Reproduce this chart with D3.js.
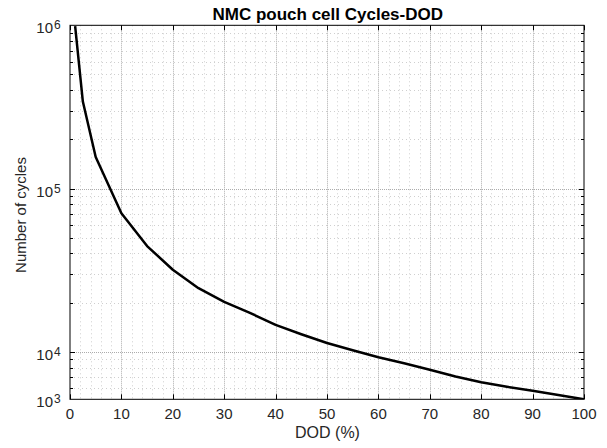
<!DOCTYPE html>
<html>
<head>
<meta charset="utf-8">
<script src="https://cdn.jsdelivr.net/npm/d3@7"></script>
<style>
  html, body { margin: 0; padding: 0; background: #fff; }
  svg { display: block; font-family: "Liberation Sans", Arial, Helvetica, sans-serif; }
</style>
</head>
<body>
<svg id="chart" width="607" height="448"></svg>
<script>
// ---- data ----
const dod = [1, 2.5, 5, 10, 15, 20, 25, 30, 35, 40, 45, 50, 55, 60, 65, 70, 75, 80, 85, 90, 95, 100];
const cycles = [990000, 341000, 156000, 70500, 44400, 31800, 24500, 20200, 17300, 14600, 12800, 11300,
                10200, 9250, 8500, 7750, 7050, 6500, 6100, 5770, 5430, 5110];
const xTicks = [0, 10, 20, 30, 40, 50, 60, 70, 80, 90, 100];
const yTickValues = [5110, 1e4, 1e5, 1e6];
const yTickExponents = ["3", "4", "5", "6"];
const title = "NMC pouch cell Cycles-DOD";
const xLabel = "DOD (%)";
const yLabel = "Number of cycles";

// ---- layout ----
const L = 70, R = 584, T = 25.3, B = 399.3;
const svg = d3.select("#chart");
const x = d3.scaleLinear().domain([0, 100]).range([L, R]);
const y = d3.scaleLog().domain([yTickValues[0], 1e6]).range([B, T]);
const textColor = "#262626";

// minor grid
const xMinor = d3.range(0, 101, 2).filter(v => v % 10 !== 0);
const yMinor = [];
for (let e = 3; e < 6; e++) for (let m = 2; m <= 9; m++) {
  const v = m * Math.pow(10, e);
  if (v > y.domain()[0] && v < 1e6) yMinor.push(v);
}
const g = svg.append("g");
g.selectAll(".xminor").data(xMinor).join("line")
  .attr("x1", d => Math.round(x(d)) + 0.5).attr("x2", d => Math.round(x(d)) + 0.5).attr("y1", T).attr("y2", B)
  .attr("stroke", "#cfcfcf").attr("stroke-width", 1).attr("stroke-dasharray", "1,3");
g.selectAll(".yminor").data(yMinor).join("line")
  .attr("x1", L).attr("x2", R).attr("y1", d => Math.round(y(d)) + 0.5).attr("y2", d => Math.round(y(d)) + 0.5)
  .attr("stroke", "#cfcfcf").attr("stroke-width", 1).attr("stroke-dasharray", "1,3");
// major grid
g.selectAll(".xmajor").data(xTicks.slice(1, -1)).join("line")
  .attr("x1", d => Math.round(x(d)) + 0.5).attr("x2", d => Math.round(x(d)) + 0.5).attr("y1", T).attr("y2", B)
  .attr("stroke", "#acacac").attr("stroke-width", 1).attr("stroke-dasharray", "1,1");
g.selectAll(".ymajor").data([1e4, 1e5]).join("line")
  .attr("x1", L).attr("x2", R).attr("y1", d => Math.round(y(d)) + 0.5).attr("y2", d => Math.round(y(d)) + 0.5)
  .attr("stroke", "#acacac").attr("stroke-width", 1).attr("stroke-dasharray", "1,1");

// curve
svg.append("clipPath").attr("id", "clip").append("rect")
  .attr("x", L).attr("y", T).attr("width", R - L).attr("height", B - T);
const line = d3.line().x((d, i) => x(dod[i])).y(d => y(d));
svg.append("path").datum(cycles).attr("d", line).attr("clip-path", "url(#clip)")
  .attr("fill", "none").attr("stroke", "#000").attr("stroke-width", 2.5).attr("stroke-linejoin", "round");

// axes box & ticks
const ax = svg.append("g").attr("stroke", "#000").attr("stroke-width", 1);
ax.append("rect").attr("x", L).attr("y", T).attr("width", R - L).attr("height", B - T).attr("fill", "none");
xTicks.forEach(v => {
  const px = Math.round(x(v)) + 0.5;
  ax.append("line").attr("x1", px).attr("x2", px).attr("y1", B).attr("y2", B - 5);
  ax.append("line").attr("x1", px).attr("x2", px).attr("y1", T).attr("y2", T + 5);
});
[1e4, 1e5].forEach(v => {
  const py = Math.round(y(v)) + 0.5;
  ax.append("line").attr("x1", L).attr("x2", L + 5).attr("y1", py).attr("y2", py);
  ax.append("line").attr("x1", R).attr("x2", R - 5).attr("y1", py).attr("y2", py);
});
yMinor.forEach(v => {
  const py = Math.round(y(v)) + 0.5;
  ax.append("line").attr("x1", L).attr("x2", L + 3).attr("y1", py).attr("y2", py);
  ax.append("line").attr("x1", R).attr("x2", R - 3).attr("y1", py).attr("y2", py);
});

// x tick labels
svg.append("g").selectAll("text").data(xTicks).join("text")
  .attr("x", d => x(d)).attr("y", B + 20).attr("text-anchor", "middle")
  .attr("font-size", 15).attr("fill", textColor).text(d => d);

// y tick labels
svg.append("g").selectAll("text").data(yTickValues).join("text")
  .attr("x", L - 17).attr("y", d => y(d) + 8).attr("text-anchor", "end")
  .attr("font-size", 15).attr("fill", textColor).text("10");
svg.append("g").selectAll("text").data(yTickValues).join("text")
  .attr("x", L - 16).attr("y", d => y(d) + 4).attr("text-anchor", "start")
  .attr("font-size", 12).attr("fill", textColor).text((d, i) => yTickExponents[i]);

// title & labels
svg.append("text").attr("x", 443).attr("y", 19.5).attr("text-anchor", "end")
  .attr("font-size", 17).attr("font-weight", "bold").attr("fill", "#000").text(title);
svg.append("text").attr("x", 327.5).attr("y", 438).attr("text-anchor", "middle")
  .attr("font-size", 16).attr("fill", textColor).text(xLabel);
svg.append("text").attr("transform", `translate(26,215) rotate(-90)`).attr("text-anchor", "middle")
  .attr("font-size", 15).attr("fill", textColor).text(yLabel);
</script>
</body>
</html>
